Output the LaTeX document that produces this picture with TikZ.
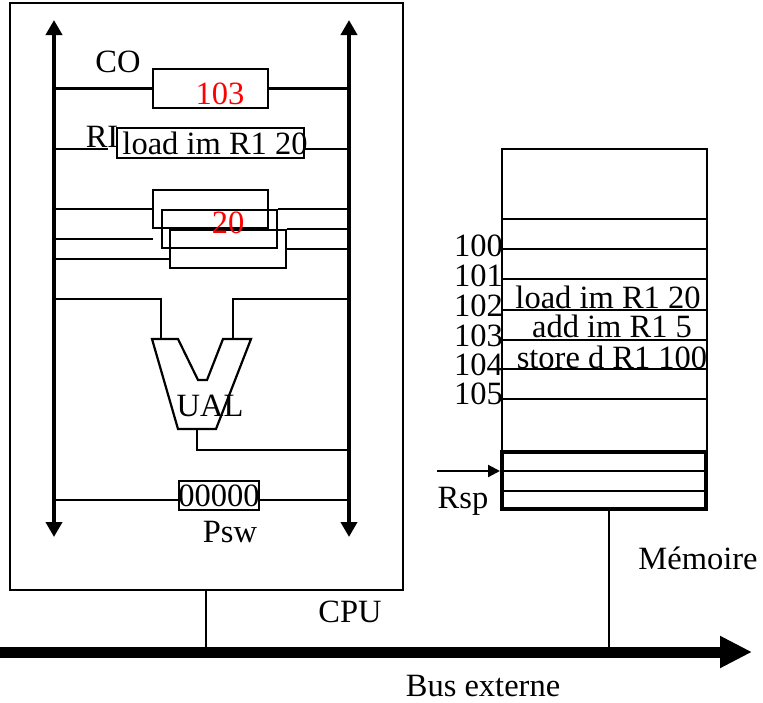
\documentclass[tikz,border=0pt]{standalone}
\usepackage{fontspec}
\setmainfont{Liberation Serif}
\usetikzlibrary{arrows.meta}
\begin{document}
\begin{tikzpicture}[x=1pt,y=-1pt,line join=miter,
  wire/.style={line width=2.2pt},
  regbox/.style={draw,line width=2.2pt,inner sep=0pt},
  lbl/.style={font=\fontsize{32.5}{32.5}\selectfont,inner sep=0pt},
  redlbl/.style={lbl,text=red},
  busv/.style={line width=4.5pt,{Triangle[length=15pt,width=16pt]}-{Triangle[length=15pt,width=16pt]}}]
\useasboundingbox (0,0) rectangle (763,702);
% CPU box
\node[draw,line width=2.2pt,inner sep=0pt,minimum width=393pt,minimum height=587pt] (cpu) at (206.5,296.5) {};
% internal buses
\coordinate (lbt) at (54,20); \coordinate (lbb) at (54,537);
\coordinate (rbt) at (349,20); \coordinate (rbb) at (349,537);
\draw[busv] (lbb) -- (lbt);
\draw[busv] (rbb) -- (rbt);
% CO
\node[regbox,minimum width=115pt,minimum height=39pt] (co) at (210.5,88.5) {};
\draw[wire] (co.west) -- (co.west -| lbt);
\draw[wire] (co.east) -- (co.east -| rbt);
\node[lbl] (colbl) at (118,62) {CO};
\node[redlbl] (coval) at (220,94) {103};
% RI
\node[regbox,minimum width=187pt,minimum height=30pt] (ri) at (210.5,143) {};
\coordinate (rigap) at (108,149); \coordinate (rir) at (304,149);
\draw[wire] (rigap) -- (rigap -| lbt);
\draw[wire] (rir) -- (rir -| rbt);
\node[lbl] (rilbl) at (102,137) {RI};
\node[lbl] (rival) at (215,143) {load im R1 20};
% stacked registers
\node[regbox,minimum width=115pt,minimum height=38pt] (ra) at (210.5,209) {};
\node[regbox,minimum width=115pt,minimum height=38pt] (rb) at (219.5,229) {};
\node[regbox,minimum width=116pt,minimum height=38pt] (rc) at (228,249) {};
\draw[wire] (ra.west) -- (ra.west -| lbt);
\draw[wire] (rb.north east) -- (rb.north east -| rbt);
\coordinate (fr) at (153,239);
\draw[wire] (fr) -- (fr -| lbt);
\draw[wire] (rc.north east) -- (rc.north east -| rbt);
\coordinate (rcl) at (170,259);
\draw[wire] (rcl) -- (rcl -| lbt);
\draw[wire] (rc.east) -- (rc.east -| rbt);
\node[redlbl] (rval) at (228,223) {20};
% UAL
\coordinate (ua) at (161,339); \coordinate (ub) at (233,339);
\draw[wire] (ua) -- (161,299) -- (161,299 -| lbt);
\draw[wire] (ub) -- (233,299) -- (233,299 -| rbt);
\draw[wire] (152,339) -- (178,339) -- (198,380) -- (207,380) -- (223,339) -- (251,339) -- (216,429) -- (178,429) -- cycle;
\coordinate (uo) at (197,429);
\draw[wire] (uo) -- (197,450) -- (197,450 -| rbt);
\node[lbl] (ual) at (210,406) {UAL};
% PSW
\node[regbox,minimum width=80pt,minimum height=29pt] (psw) at (219,495.5) {};
\coordinate (pl) at (179,500); \coordinate (pr) at (259,500);
\draw[wire] (pl) -- (pl -| lbt);
\draw[wire] (pr) -- (pr -| rbt);
\node[lbl] (pswval) at (219,496) {00000};
\node[lbl] (pswlbl) at (230,532) {Psw};
% Memory
\coordinate (m1) at (502,452); \coordinate (m2) at (707,452);
\draw[wire] (m1) -- (502,149) -- (707,149) -- (m2);
\foreach \yy in {219,249,279,310,340,369,399} \draw[wire] (502,\yy) -- (707,\yy);
\node[lbl,anchor=east] (a100) at (503,246) {100};
\node[lbl,anchor=east] (a101) at (503,276) {101};
\node[lbl,anchor=east] (a102) at (503,306) {102};
\node[lbl,anchor=east] (a103) at (503,336) {103};
\node[lbl,anchor=east] (a104) at (503,365) {104};
\node[lbl,anchor=east] (a105) at (503,394) {105};
\node[lbl] (i1) at (608,297) {load im R1 20};
\node[lbl] (i2) at (612,326) {add im R1 5};
\node[lbl] (i3) at (612,357) {store d R1 100};
% stack
\node[draw,line width=4pt,inner sep=0pt,minimum width=204pt,minimum height=57pt] (stk) at (604,480.5) {};
\draw[wire] (502,471) -- (706,471);
\draw[wire] (502,491) -- (708,491);
\coordinate (rspin) at (437,471);
\draw[wire,-{Triangle[length=12pt,width=12pt]}] (rspin) -- (stk.west |- rspin);
\node[lbl] (rsp) at (463,501) {Rsp};
\node[lbl] (mem) at (698,558) {Mémoire};
% external bus
\coordinate (bs) at (0,652); \coordinate (be) at (752,652);
\draw[line width=11pt,-{Triangle[length=32pt,width=30pt]}] (bs) -- (be);
\draw[wire] (cpu.south -| 206,0) -- (206,652);
\draw[wire] (stk.south -| 609,0) -- (609,652);
\node[lbl] (cpulbl) at (350,612) {CPU};
\node[lbl] (buslbl) at (483,686) {Bus externe};
\end{tikzpicture}
\end{document}
